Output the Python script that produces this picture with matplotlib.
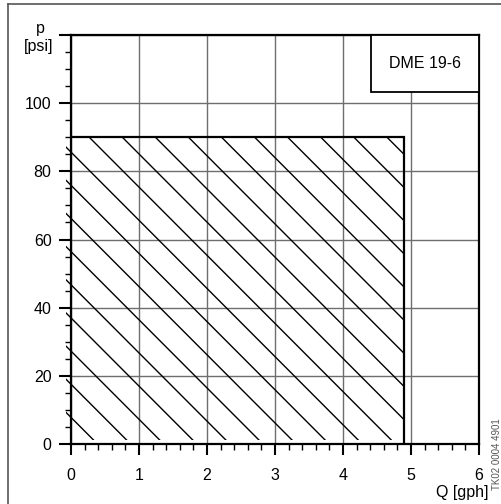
import numpy as np
import matplotlib
matplotlib.use('Agg')
import matplotlib.pyplot as plt
from matplotlib.patches import Rectangle
from matplotlib.lines import Line2D
from matplotlib.ticker import MultipleLocator

plt.rcParams['font.family'] = ['Liberation Sans', 'DejaVu Sans']

# Operating range of the pump (hatched area)
q_max = 4.9      # gph
p_max = 90       # psi
hatch_left = -0.08
hatch_bottom = 1.3

# axis ranges / ticks
x_ticks = [0, 1, 2, 3, 4, 5, 6]
y_ticks = [0, 20, 40, 60, 80, 100, 120]
y_labels = ['0', '20', '40', '60', '80', '100', '']

model = 'DME 19-6'
doc_id = 'TK02 0004 4901'

# hatch pattern style
hatch_slope = 20.0      # psi per gph (45 deg on screen)
hatch_step = 9.73       # psi between lines
hatch_start = 7.8

fig = plt.figure(figsize=(5.02, 5.04), dpi=100)
ax = fig.add_axes([71 / 502, 60 / 504, 408 / 502, 409 / 504])

ax.set_xlim(0, 6)
ax.set_ylim(0, 120)
ax.set_xticks(x_ticks)
ax.set_yticks(y_ticks)
ax.set_yticklabels(y_labels)
ax.xaxis.set_minor_locator(MultipleLocator(0.2))
ax.yaxis.set_minor_locator(MultipleLocator(5))

ax.grid(True, which='major', color='#6e6e6e', linewidth=1.0)
ax.set_axisbelow(True)

for s in ax.spines.values():
    s.set_linewidth(1.6)
ax.tick_params(which='major', direction='out', length=9, width=1.5,
               labelsize=11.5, pad=5)
ax.tick_params(which='minor', direction='out', length=4.5, width=1.0)
ax.tick_params(axis='x', which='major', length=8, pad=9)
ax.tick_params(axis='x', which='minor', length=4)

# hatched operating area (lines clipped to the area, which pokes a bit left of the axis)
clip = Rectangle((hatch_left, hatch_bottom), q_max - hatch_left, p_max - hatch_bottom,
                 transform=ax.transData)
for c in np.arange(hatch_start, p_max + hatch_slope * q_max + hatch_step, hatch_step):
    xs = np.array([-1.0, 7.0])
    ln, = ax.plot(xs, c - hatch_slope * xs, color='black', linewidth=1.0, zorder=2)
    ln.set_clip_path(clip)

# border of operating area (top and right)
ax.plot([0, q_max, q_max], [p_max, p_max, 0], color='black', linewidth=1.6,
        solid_joinstyle='miter', zorder=3)

# model box in upper right corner
ax.add_patch(Rectangle((4.41, 103.3), 6 - 4.41, 120 - 103.3, facecolor='white',
                       edgecolor='black', linewidth=1.3, zorder=4))
ax.text((4.41 + 6) / 2, 111.5, model, ha='center', va='center', fontsize=11.5, zorder=5)

# axis labels
fig.text(40 / 502, 1 - 29 / 504, 'p', ha='center', va='center', fontsize=11.5)
fig.text(39 / 502, 1 - 47 / 504, '[psi]', ha='center', va='center', fontsize=11.5)
fig.text(489 / 502, 1 - 492 / 504, 'Q [gph]', ha='right', va='center', fontsize=11.5)
fig.text(497 / 502, 1 - 454 / 504, doc_id, ha='center', va='center', rotation=90,
         fontsize=7, color='#555555')

# outer frame (top and left edges)
fig.add_artist(Line2D([8 / 502, 8 / 502], [0, 1 - 4 / 504], transform=fig.transFigure,
                      color='#555555', linewidth=1.2))
fig.add_artist(Line2D([8 / 502, 1], [1 - 4 / 504, 1 - 4 / 504], transform=fig.transFigure,
                      color='#555555', linewidth=1.2))

fig.savefig('out.png', dpi=100)
